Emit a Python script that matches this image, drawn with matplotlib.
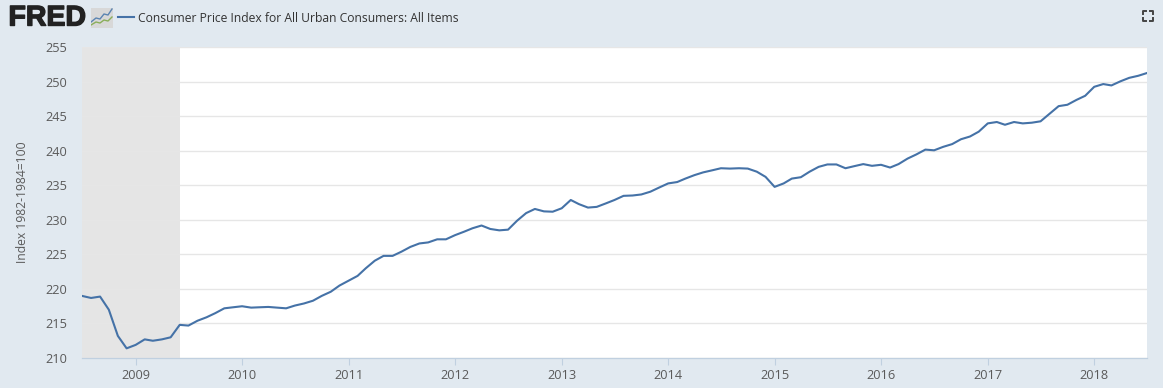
import matplotlib
matplotlib.use('Agg')
import matplotlib.pyplot as plt
import matplotlib.dates as mdates
import matplotlib.patheffects as pe
import pandas as pd
from matplotlib.patches import Rectangle

plt.rcParams['font.family'] = ['Open Sans', 'DejaVu Sans']

title = 'Consumer Price Index for All Urban Consumers: All Items'
y_label = 'Index 1982-1984=100'
y_ticks = [210, 215, 220, 225, 230, 235, 240, 245, 250, 255]
x_years = [2009, 2010, 2011, 2012, 2013, 2014, 2015, 2016, 2017, 2018]
recession = ['2008-07-01', '2009-06-01']

# monthly values, Jul 2008 - Jul 2018
cpi = [
    219.0, 218.7, 218.9, 217.0, 213.2, 211.4,
    211.9, 212.7, 212.5, 212.7, 213.0, 214.8, 214.7, 215.4, 215.9, 216.5, 217.2, 217.35,
    217.5, 217.3, 217.35, 217.4, 217.3, 217.2, 217.6, 217.9, 218.3, 219.0, 219.6, 220.5,
    221.2, 221.9, 223.0, 224.1, 224.8, 224.8, 225.4, 226.1, 226.6, 226.75, 227.2, 227.2,
    227.8, 228.3, 228.8, 229.2, 228.7, 228.5, 228.6, 229.9, 231.0, 231.6, 231.25, 231.2,
    231.7, 232.9, 232.3, 231.8, 231.9, 232.4, 232.9, 233.5, 233.55, 233.7, 234.1, 234.7,
    235.3, 235.5, 236.0, 236.5, 236.9, 237.2, 237.5, 237.45, 237.5, 237.45, 237.0, 236.25,
    234.8, 235.3, 236.0, 236.2, 237.0, 237.7, 238.05, 238.05, 237.5, 237.8, 238.1, 237.85,
    238.0, 237.6, 238.1, 238.9, 239.5, 240.2, 240.1, 240.6, 241.0, 241.7, 242.1, 242.8,
    244.0, 244.2, 243.8, 244.2, 244.0, 244.1, 244.3, 245.4, 246.5, 246.7, 247.4, 248.0,
    249.3, 249.7, 249.5, 250.1, 250.6, 250.9, 251.3,
]
dates = pd.date_range('2008-07-01', periods=len(cpi), freq='MS')

bg = '#e1e9f0'
text_col = '#5a5a5a'

fig = plt.figure(figsize=(11.63, 3.88), dpi=100, facecolor=bg)
W, H = 1163, 388
ax = fig.add_axes([82 / W, 1 - 358 / H, (1147 - 82) / W, (358 - 47) / H])
ax.set_facecolor('white')

ax.axvspan(pd.Timestamp(recession[0]), pd.Timestamp(recession[1]), color='#e5e5e5', lw=0, zorder=1)
ax.plot(dates, cpi, color='#4572a7', lw=1.5, zorder=3)

ax.set_xlim(dates[0], dates[-1])
ax.set_ylim(210, 255.07)
ax.set_yticks(y_ticks)
ax.set_xticks([pd.Timestamp(f'{y}-01-01') for y in x_years])
ax.xaxis.set_major_formatter(mdates.DateFormatter('%Y'))
ax.grid(axis='y', color='#e6e6e6', lw=1, zorder=2)
ax.set_axisbelow(False)

for s in ['top', 'left', 'right']:
    ax.spines[s].set_visible(False)
ax.spines['bottom'].set_color('#c0d0e0')
ax.spines['bottom'].set_linewidth(0.9)

ax.tick_params(axis='y', length=0, pad=10.8, labelsize=9.2, labelcolor=text_col)
ax.tick_params(axis='x', length=5, width=0.8, color='#c0d0e0', pad=3, labelsize=9.2, labelcolor=text_col)

fig.text(23 / W, 1 - 202 / H, y_label, rotation=90, ha='center', va='center', fontsize=8.7, color=text_col)

# header
fig.text(8.5 / W, 1 - 18.5 / H, 'FRED', fontsize=20.5, fontweight='bold', family='Liberation Sans',
         color='#222222', ha='left', va='center',
         path_effects=[pe.withStroke(linewidth=1.0, foreground='#222222')])
fig.text(138.5 / W, 1 - 18 / H, title, fontsize=8.72, color='#333333', ha='left', va='center')
fig.add_artist(plt.Line2D([118 / W, 134 / W], [1 - 17 / H, 1 - 17 / H], color='#4572a7', lw=1.5))

# small logo icon
icon = fig.add_axes([91 / W, 1 - 28 / H, 22 / W, 20 / H])
icon.set_xlim(0, 22)
icon.set_ylim(0, 20)
icon.axis('off')
icon.add_patch(Rectangle((0, 0), 22, 20, color='#d8d8d8', lw=0))
icon.plot([0, 5, 9, 13, 17, 21], [6, 10, 9, 14, 13, 19], color='#5b84b1', lw=1)
icon.plot([0, 5, 9, 13, 17, 21], [3, 6, 5, 8, 7, 11], color='#8aae5a', lw=1)

# fullscreen icon
fs = fig.add_axes([1142 / W, 1 - 21 / H, 11 / W, 11 / H])
fs.set_xlim(0, 11)
fs.set_ylim(0, 11)
fs.axis('off')
for xs, ys in [([0.5, 0.5, 3.5], [7.5, 10.5, 10.5]), ([7.5, 10.5, 10.5], [10.5, 10.5, 7.5]),
               ([0.5, 0.5, 3.5], [3.5, 0.5, 0.5]), ([7.5, 10.5, 10.5], [0.5, 0.5, 3.5])]:
    fs.plot(xs, ys, color='#444444', lw=1.4, clip_on=False)

fig.savefig('out.png', dpi=100, facecolor=bg)
